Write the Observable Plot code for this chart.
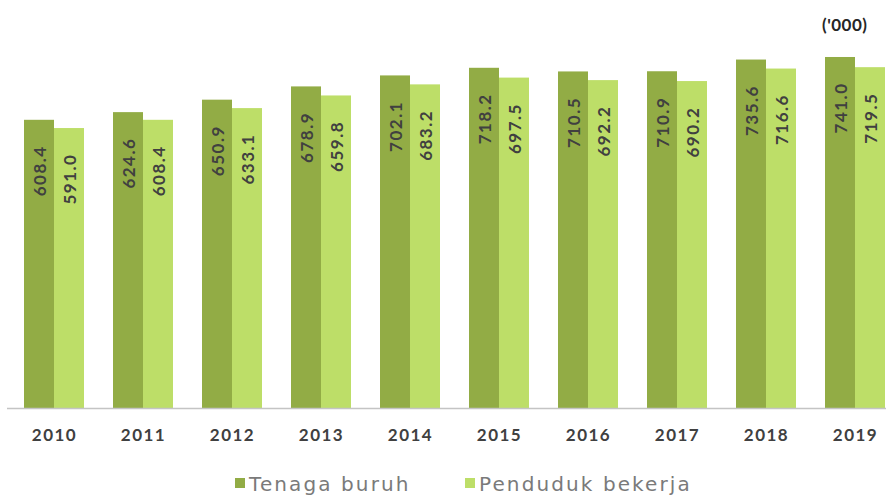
<!DOCTYPE html>
<html>
<head>
<meta charset="utf-8">
<script src="https://cdn.jsdelivr.net/npm/d3@7"></script>
<script src="https://cdn.jsdelivr.net/npm/@observablehq/plot@0.6"></script>
<style>
  html, body { margin: 0; padding: 0; background: #fff; }
  #wrap { position: relative; width: 886px; height: 498px; overflow: hidden; font-family: Lato, "DejaVu Sans", sans-serif; }
  #unit { position: absolute; top: 14px; left: 822px; font-size: 17px; font-weight: bold; color: #262626; letter-spacing: 0.5px; }
  .leg { position: absolute; top: 472px; height: 24px; display: flex; align-items: center; font-family: "DejaVu Sans", sans-serif; font-size: 20px; color: #7a7a7a; letter-spacing: 2.1px; white-space: nowrap; }
  .sw { width: 10px; height: 10px; margin-right: 4px; margin-top: -2px; }
</style>
</head>
<body>
<div id="wrap">
  <div id="chart"></div>
  <div id="unit">('000)</div>
  <div class="leg" style="left:235px"><span class="sw" id="sw1"></span><span id="lg1"></span></div>
  <div class="leg" style="left:465px"><span class="sw" id="sw2"></span><span id="lg2"></span></div>
</div>
<script>
const years = [2010, 2011, 2012, 2013, 2014, 2015, 2016, 2017, 2018, 2019];
const seriesNames = ["Tenaga buruh", "Penduduk bekerja"];
const tenagaBuruh = [608.4, 624.6, 650.9, 678.9, 702.1, 718.2, 710.5, 710.9, 735.6, 741.0];
const pendudukBekerja = [591.0, 608.4, 633.1, 659.8, 683.2, 697.5, 692.2, 690.2, 716.6, 719.5];
const colors = ["#92AC45", "#BDDE68"];

const rowsA = years.map((y, i) => ({year: y, series: seriesNames[0], value: tenagaBuruh[i]}));
const rowsB = years.map((y, i) => ({year: y, series: seriesNames[1], value: pendudukBekerja[i]}));

const labelStyle = {fontSize: 17, fontWeight: "bold", fill: "#404040", rotate: -90, textAnchor: "end", dy: 25};

const chart = Plot.plot({
  width: 886,
  height: 460,
  marginLeft: 7,
  marginRight: 0,
  marginTop: 20,
  marginBottom: 52,
  style: {fontFamily: "Lato, 'DejaVu Sans', sans-serif", background: "#fff", letterSpacing: "1.5px", overflow: "visible"},
  x: {type: "band", domain: years, range: [22, 886], paddingInner: 0.328, paddingOuter: 0, axis: null},
  y: {domain: [0, 800], range: [408, 408 - 800 * 0.4737], axis: null},
  marks: [
    Plot.barY(rowsA, {x: "year", y: "value", fill: colors[0], insetRight: 30}),
    Plot.barY(rowsB, {x: "year", y: "value", fill: colors[1], insetLeft: 30}),
    Plot.ruleY([0], {stroke: "#c4c4c4", strokeWidth: 1.5}),
    Plot.text(rowsA, {x: "year", y: "value", text: d => d.value.toFixed(1), dx: -14, ...labelStyle}),
    Plot.text(rowsB, {x: "year", y: "value", text: d => d.value.toFixed(1), dx: 16, ...labelStyle}),
    Plot.text(years, {x: d => d, frameAnchor: "bottom", dy: 32, text: d => String(d), fontSize: 17, fontWeight: "bold", fill: "#404040"})
  ]
});
document.getElementById("chart").appendChild(chart);
document.getElementById("sw1").style.background = colors[0];
document.getElementById("sw2").style.background = colors[1];
document.getElementById("lg1").textContent = seriesNames[0];
document.getElementById("lg2").textContent = seriesNames[1];
</script>
</body>
</html>
